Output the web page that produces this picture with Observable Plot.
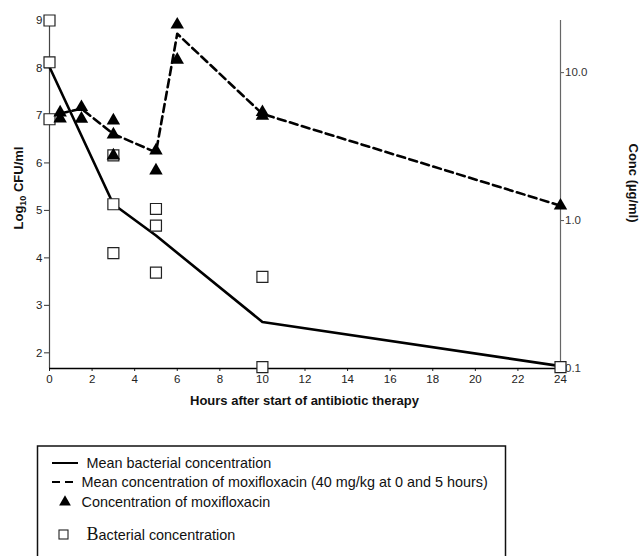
<!DOCTYPE html>
<html>
<head>
<meta charset="utf-8">
<script src="https://cdn.jsdelivr.net/npm/d3@7"></script>
<script src="https://cdn.jsdelivr.net/npm/@observablehq/plot@0.6"></script>
<style>
  html, body { margin: 0; padding: 0; background: #fff; overflow: hidden; }
  svg { display: block; }
</style>
</head>
<body>
<div id="chart"></div>
<script>
// ---- Data ----
// Individual bacterial counts (log10 CFU/ml)
const bactHours = [0, 0, 0, 3, 3, 3, 5, 5, 5, 10, 10, 24];
const bactLog   = [9.0, 8.12, 6.92, 6.16, 5.13, 4.10, 5.03, 4.68, 3.69, 3.60, 1.70, 1.70];
// Mean bacterial concentration
const meanBactHours = [0, 3, 5, 10, 24];
const meanBactLog   = [8.02, 5.13, 4.47, 2.65, 1.72];
// Individual moxifloxacin concentrations (µg/ml, right log axis)
const concHours  = [0.5, 0.5, 1.5, 1.5, 3, 3, 3, 5, 5, 6, 6, 10, 10, 24];
const concValues = [5.37, 4.89, 5.84, 4.87, 4.74, 3.81, 2.75, 2.97, 2.18, 21.1, 12.2, 5.4, 5.1, 1.26];
// Mean moxifloxacin concentration
const meanConcHours  = [0.5, 1.5, 3, 5, 6, 10, 24];
const meanConcValues = [5.3, 5.7, 3.85, 2.89, 18.3, 5.26, 1.26];
// Tick labels
const xTicks = [0, 2, 4, 6, 8, 10, 12, 14, 16, 18, 20, 22, 24];
const leftTicks = [2, 3, 4, 5, 6, 7, 8, 9];
const rightTickValues = [10, 1, 0.1];
const rightTickLabels = ["10.0", "1.0", "0.1"];

// ---- Dual-axis mapping: right log axis expressed in left-axis units ----
const yMin = 1.67, yMax = 9.0;
const unitsPerDecade = 3.116;          // one decade of concentration in log10 CFU units
const concToY = c => yMin + (Math.log10(c) + 1) * unitsPerDecade;   // 0.1 µg/ml sits at the bottom

const bact = bactHours.map((h, i) => ({h, v: bactLog[i]}));
const meanBact = meanBactHours.map((h, i) => ({h, v: meanBactLog[i]}));
const conc = concHours.map((h, i) => ({h, v: concToY(concValues[i])}));
const meanConc = meanConcHours.map((h, i) => ({h, v: concToY(meanConcValues[i])}));
const rightTickPos = rightTickValues.map(concToY);
const rightLabelMap = new Map(rightTickPos.map((p, i) => [p, rightTickLabels[i]]));

const font = "'Liberation Sans', Arial, Helvetica, sans-serif";

const chart = Plot.plot({
  width: 642,
  height: 420,
  marginLeft: 49,
  marginRight: 82,
  marginTop: 20,
  marginBottom: 52,
  style: {fontFamily: font, fontSize: "11px", color: "#222", background: "white", overflow: "visible"},
  x: {domain: [0, 24], label: null},
  y: {domain: [yMin, yMax], label: null},
  marks: [
    Plot.axisX({ticks: xTicks, tickSize: 3, tickPadding: 3, fontSize: 11.5, label: null, tickFormat: d => String(d)}),
    Plot.axisY({ticks: leftTicks, tickSize: 5, tickPadding: 2, fontSize: 11.5, label: null, stroke: "#333"}),
    Plot.axisY({anchor: "right", ticks: rightTickPos, tickSize: 3, tickPadding: 1.5, fontSize: 11.5,
                label: null, stroke: "#555", fill: "#333", tickFormat: d => rightLabelMap.get(d)}),
    Plot.ruleX([0], {stroke: "#444", strokeWidth: 1.2}),
    Plot.ruleX([24], {stroke: "#666", strokeWidth: 1.2}),
    Plot.ruleY([yMin], {stroke: "#000", strokeWidth: 1.5}),
    Plot.line(meanBact, {x: "h", y: "v", stroke: "#000", strokeWidth: 2.6}),
    Plot.line(meanConc, {x: "h", y: "v", stroke: "#000", strokeWidth: 2.6, strokeDasharray: "8,4.5"}),
    Plot.dot(bact, {x: "h", y: "v", symbol: "square", r: 6.2, fill: "white", stroke: "#222", strokeWidth: 1.2}),
    Plot.dot(conc, {x: "h", y: "v", symbol: "triangle", r: 5, fill: "#000", stroke: "none"})
  ]
});

document.getElementById("chart").appendChild(chart);

// Axis titles
const svg = d3.select(chart);
svg.append("text")
  .attr("x", 304.5).attr("y", 405)
  .attr("text-anchor", "middle")
  .style("font", `bold 13px ${font}`).attr("fill", "#111")
  .text("Hours after start of antibiotic therapy");

const yl = svg.append("text")
  .attr("transform", "translate(23,188) rotate(-90)")
  .attr("text-anchor", "middle")
  .style("font", `bold 13px ${font}`).attr("fill", "#111");
yl.append("tspan").text("Log");
yl.append("tspan").attr("dy", 3).style("font-size", "9px").text("10");
yl.append("tspan").attr("dy", -3).text(" CFU/ml");

svg.append("text")
  .attr("transform", "translate(629,183) rotate(90)")
  .attr("text-anchor", "middle")
  .style("font", `bold 13px ${font}`).attr("fill", "#111")
  .text("Conc (µg/ml)");

// Legend (below the chart)
const leg = d3.select("body").append("svg")
  .attr("width", 642).attr("height", 136)
  .style("font-family", font);
leg.append("rect")
  .attr("x", 37.5).attr("y", 26).attr("width", 468).attr("height", 200)
  .attr("fill", "none").attr("stroke", "#111").attr("stroke-width", 1.5);
leg.append("line").attr("x1", 52).attr("x2", 78).attr("y1", 43).attr("y2", 43)
  .attr("stroke", "#000").attr("stroke-width", 2);
leg.append("line").attr("x1", 52).attr("x2", 78).attr("y1", 62).attr("y2", 62)
  .attr("stroke", "#000").attr("stroke-width", 2.2).attr("stroke-dasharray", "8,5");
leg.append("path")
  .attr("transform", "translate(65,82)")
  .attr("d", d3.symbol(d3.symbolTriangle, 60)())
  .attr("fill", "#000");
leg.append("rect").attr("x", 59).attr("y", 110).attr("width", 9).attr("height", 9)
  .attr("fill", "white").attr("stroke", "#222").attr("stroke-width", 1.1);

const legText = [
  {x: 86.5, y: 43, t: "Mean bacterial concentration"},
  {x: 81.5, y: 62, t: "Mean concentration of moxifloxacin (40 mg/kg at 0 and 5 hours)"},
  {x: 81.5, y: 82, t: "Concentration of moxifloxacin"}
];
legText.forEach(d => {
  leg.append("text").attr("x", d.x).attr("y", d.y).attr("dy", "0.35em")
    .style("font-size", "14.4px").attr("fill", "#111").text(d.t);
});
const bt = leg.append("text").attr("x", 86.5).attr("y", 115).attr("dy", "0.35em")
  .style("font-size", "14.4px").attr("fill", "#111");
bt.append("tspan").style("font-family", "'Liberation Serif', 'Times New Roman', serif").style("font-size", "18px").text("B");
bt.append("tspan").text("acterial concentration");
</script>
</body>
</html>
